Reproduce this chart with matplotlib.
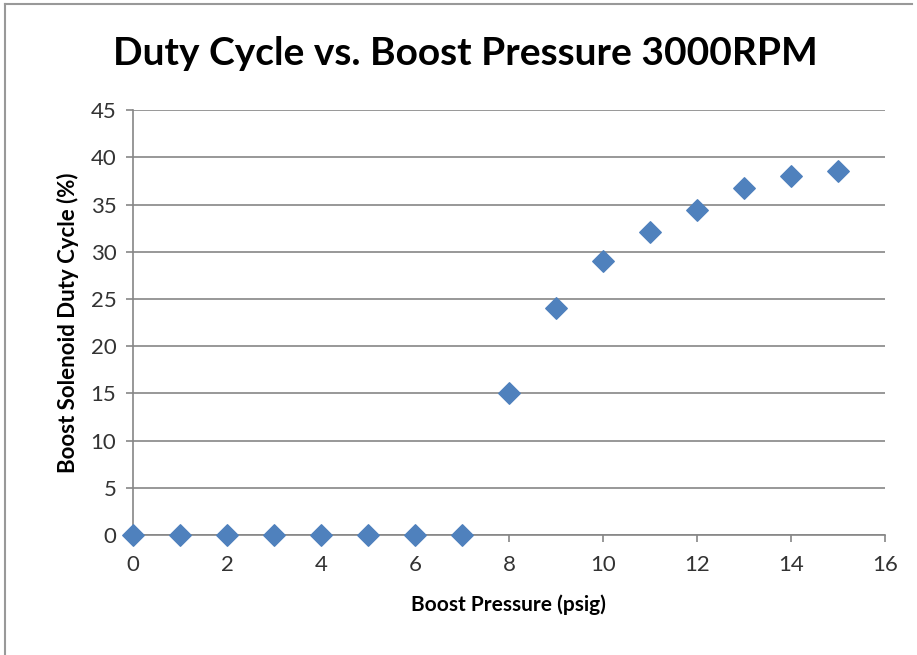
import matplotlib
matplotlib.use('agg')
import matplotlib.pyplot as plt
from matplotlib.lines import Line2D

# data
pressure = [0, 1, 2, 3, 4, 5, 6, 7, 8, 9, 10, 11, 12, 13, 14, 15]
duty = [0, 0, 0, 0, 0, 0, 0, 0, 15.0, 24.0, 29.0, 32.1, 34.4, 36.7, 38.0, 38.5]
xticks = list(range(0, 17, 2))
yticks = list(range(0, 46, 5))

plt.rcParams['font.family'] = ['Lato', 'DejaVu Sans']

fig = plt.figure(figsize=(9.17, 6.55), dpi=100)
ax = fig.add_axes([0.145, 0.183, 0.82, 0.649])

grid_col = '#868686'
ax.set_xlim(0, 16)
ax.set_ylim(0, 45)
ax.set_xticks(xticks)
ax.set_yticks(yticks)
ax.grid(axis='y', color=grid_col, lw=1.2)
ax.set_axisbelow(True)
for s in ['top', 'right']:
    ax.spines[s].set_visible(False)
for s in ['left', 'bottom']:
    ax.spines[s].set_color(grid_col)
    ax.spines[s].set_linewidth(1.2)
ax.tick_params(colors=grid_col, length=5, width=1.2, labelsize=16, labelcolor='#333333')
ax.tick_params(axis='x', pad=9)
ax.tick_params(axis='y', pad=7)

ax.scatter(pressure, duty, marker='D', s=120, color='#4F81BD', zorder=3, clip_on=False)

ax.set_xlabel('Boost Pressure (psig)', fontsize=15, fontweight='bold', labelpad=14)
ax.set_ylabel('Boost Solenoid Duty Cycle (%)', fontsize=16, fontweight='bold', labelpad=8)
fig.text(0.508, 0.918, 'Duty Cycle vs. Boost Pressure 3000RPM', ha='center', va='center',
         fontsize=28, fontweight='bold')

# outer chart frame (top, left)
fig.add_artist(Line2D([0.005, 0.005], [0, 0.994], color='#999999', lw=1.5, transform=fig.transFigure))
fig.add_artist(Line2D([0.005, 0.995], [0.994, 0.994], color='#999999', lw=1.5, transform=fig.transFigure))

fig.savefig('out.png', dpi=100)
